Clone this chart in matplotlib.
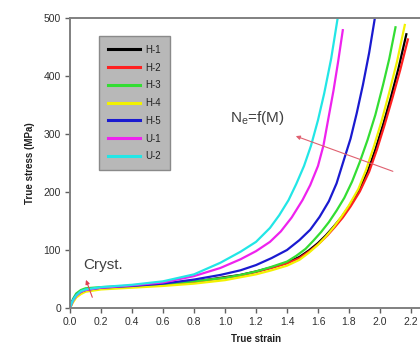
import matplotlib
matplotlib.use("Agg")
import matplotlib.pyplot as plt

plt.rcParams['font.family'] = ['Liberation Sans', 'DejaVu Sans']

labels = ["H-1", "H-2", "H-3", "H-4", "H-5", "U-1", "U-2"]
colors = ["#000000", "#ff2020", "#33dd33", "#f2f200", "#1a1ad0", "#ee22ee", "#22e6e6"]

strain_h1 = [0, 0.01, 0.02, 0.04, 0.07, 0.1, 0.2, 0.4, 0.6, 0.8, 0.97, 1.1, 1.2, 1.3, 1.4, 1.48,
             1.54, 1.60, 1.65, 1.70, 1.75, 1.80, 1.86, 1.92, 1.97, 2.02, 2.07, 2.12, 2.17]
stress_h1 = [0, 7, 13, 21, 27, 30, 34, 37, 40, 45, 52, 57, 63, 70, 78, 88,
             99, 112, 125, 140, 156, 175, 201, 235, 273, 316, 363, 414, 472]

strain_h2 = [0, 0.01, 0.02, 0.04, 0.07, 0.1, 0.2, 0.4, 0.6, 0.8, 0.97, 1.1, 1.2, 1.3, 1.4, 1.48,
             1.55, 1.61, 1.66, 1.71, 1.76, 1.81, 1.87, 1.93, 1.98, 2.03, 2.08, 2.13, 2.18]
stress_h2 = [0, 8, 14, 22, 28, 31, 34, 37, 40, 45, 51, 56, 62, 69, 77, 86,
             99, 112, 125, 140, 156, 175, 201, 235, 273, 316, 362, 410, 463]

strain_h3 = [0, 0.01, 0.02, 0.04, 0.07, 0.1, 0.2, 0.4, 0.6, 0.8, 1.0, 1.1, 1.2, 1.3, 1.4, 1.46,
             1.52, 1.57, 1.62, 1.67, 1.72, 1.77, 1.82, 1.87, 1.92, 1.97, 2.02, 2.06, 2.10]
stress_h3 = [0, 9, 16, 25, 31, 34, 36, 38, 41, 46, 52, 57, 63, 71, 80, 90,
             102, 116, 131, 148, 168, 190, 218, 252, 290, 333, 385, 430, 484]

strain_h4 = [0, 0.01, 0.02, 0.04, 0.07, 0.1, 0.2, 0.4, 0.6, 0.8, 1.0, 1.1, 1.2, 1.3, 1.4, 1.48,
             1.54, 1.60, 1.65, 1.70, 1.75, 1.80, 1.86, 1.91, 1.96, 2.01, 2.06, 2.11, 2.16]
stress_h4 = [0, 5, 10, 18, 24, 28, 32, 35, 38, 42, 48, 53, 58, 65, 73, 83,
             95, 109, 123, 139, 157, 177, 205, 238, 278, 322, 372, 425, 488]

strain_h5 = [0, 0.01, 0.02, 0.04, 0.07, 0.1, 0.2, 0.4, 0.6, 0.8, 0.97, 1.1, 1.2, 1.3, 1.4, 1.48,
             1.55, 1.61, 1.67, 1.72, 1.77, 1.81, 1.85, 1.89, 1.93, 1.97]
stress_h5 = [0, 8, 14, 22, 28, 31, 35, 38, 42, 49, 57, 65, 74, 86, 100, 117,
             135, 157, 184, 215, 258, 292, 336, 385, 440, 505]

strain_u1 = [0, 0.01, 0.02, 0.04, 0.07, 0.1, 0.2, 0.4, 0.6, 0.8, 0.97, 1.1, 1.2, 1.29, 1.36, 1.43,
             1.50, 1.55, 1.60, 1.635, 1.665, 1.70, 1.73, 1.76]
stress_u1 = [0, 7, 13, 21, 28, 31, 35, 39, 44, 55, 69, 84, 98, 114, 132, 156,
             186, 212, 245, 280, 324, 375, 425, 479]

strain_u2 = [0, 0.01, 0.02, 0.04, 0.07, 0.1, 0.2, 0.4, 0.6, 0.8, 0.97, 1.1, 1.2, 1.29, 1.35, 1.41,
             1.46, 1.51, 1.555, 1.60, 1.64, 1.685, 1.73]
stress_u2 = [0, 8, 14, 22, 29, 32, 36, 40, 46, 58, 78, 97, 114, 138, 160, 186,
             214, 245, 280, 324, 370, 430, 505]

series = [(strain_h1, stress_h1), (strain_h2, stress_h2), (strain_h3, stress_h3),
          (strain_h4, stress_h4), (strain_h5, stress_h5), (strain_u1, stress_u1),
          (strain_u2, stress_u2)]

xticks = [0.0, 0.2, 0.4, 0.6, 0.8, 1.0, 1.2, 1.4, 1.6, 1.8, 2.0, 2.2]
yticks = [0, 100, 200, 300, 400, 500]

fig = plt.figure(figsize=(4.2, 3.58), dpi=100)
ax = fig.add_axes([70 / 420, 50 / 358, 372 / 420, 290 / 358])

for (x, y), c, lab in zip(series, colors, labels):
    ax.plot(x, y, color=c, lw=1.6, label=lab, solid_joinstyle='round')

ax.set_xlim(0, 2.4)
ax.set_ylim(0, 500)
ax.set_xticks(xticks)
ax.set_xticklabels([f"{t:.1f}" for t in xticks])
ax.set_yticks(yticks)

for s in ax.spines.values():
    s.set_color('#808080')
    s.set_linewidth(1.4)
ax.tick_params(direction='out', length=3.5, width=1, color='#606060',
               labelsize=7.5, labelcolor='#303030', pad=3)

ax.set_xlabel("True strain", fontsize=7, fontweight='bold', color='#202020', labelpad=5)
ax.set_ylabel("True stress (MPa)", fontsize=7, fontweight='bold', color='#202020', labelpad=6)

leg = ax.legend(loc='upper left', bbox_to_anchor=(0.078, 0.938), borderaxespad=0,
                fontsize=7, frameon=True, fancybox=False, handlelength=3.3,
                handletextpad=0.6, labelspacing=0.8, borderpad=0.9)
leg.get_frame().set_facecolor('#b8b8b8')
leg.get_frame().set_edgecolor('#8a8a8a')
leg.get_frame().set_alpha(1)
leg.get_frame().set_linewidth(1)
for line in leg.get_lines():
    line.set_linewidth(2.2)
for t in leg.get_texts():
    t.set_color('#202020')

ax.text(0.085, 74, "Cryst.", fontsize=11, color='#404040', va='center', ha='left')
ax.annotate("", xy=(0.097, 53), xytext=(0.15, 14),
            arrowprops=dict(arrowstyle='-|>', color='#e04050', lw=0.8, mutation_scale=6))

ax.text(1.03, 328, r"N$_\mathregular{e}$=f(M)", fontsize=11, color='#404040', va='center', ha='left')
ax.annotate("", xy=(1.44, 298), xytext=(2.10, 234),
            arrowprops=dict(arrowstyle='-|>', color='#e06070', lw=0.8, mutation_scale=6))

fig.savefig("out.png", dpi=100)
